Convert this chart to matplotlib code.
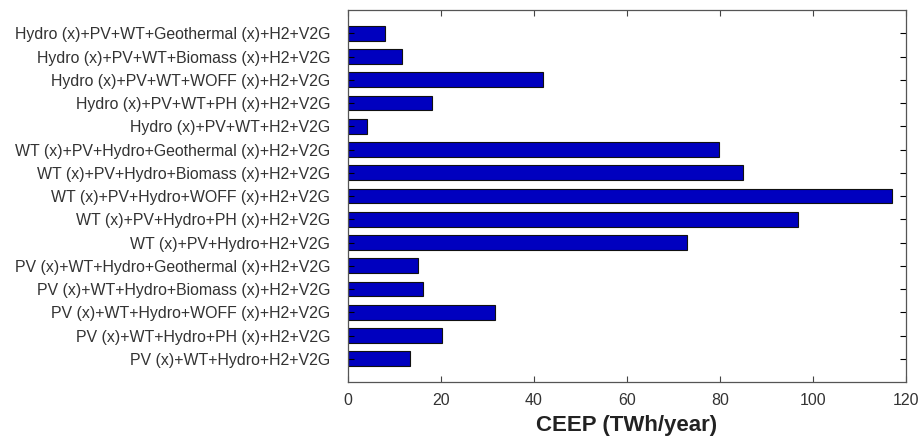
import matplotlib.pyplot as plt

plt.rcParams['font.family'] = ['Liberation Sans', 'DejaVu Sans']

# scenarios listed top to bottom
scenarios = [
    "Hydro (x)+PV+WT+Geothermal (x)+H2+V2G",
    "Hydro (x)+PV+WT+Biomass (x)+H2+V2G",
    "Hydro (x)+PV+WT+WOFF (x)+H2+V2G",
    "Hydro (x)+PV+WT+PH (x)+H2+V2G",
    "Hydro (x)+PV+WT+H2+V2G",
    "WT (x)+PV+Hydro+Geothermal (x)+H2+V2G",
    "WT (x)+PV+Hydro+Biomass (x)+H2+V2G",
    "WT (x)+PV+Hydro+WOFF (x)+H2+V2G",
    "WT (x)+PV+Hydro+PH (x)+H2+V2G",
    "WT (x)+PV+Hydro+H2+V2G",
    "PV (x)+WT+Hydro+Geothermal (x)+H2+V2G",
    "PV (x)+WT+Hydro+Biomass (x)+H2+V2G",
    "PV (x)+WT+Hydro+WOFF (x)+H2+V2G",
    "PV (x)+WT+Hydro+PH (x)+H2+V2G",
    "PV (x)+WT+Hydro+H2+V2G",
]
ceep = [8.0, 11.6, 42.0, 18.0, 4.1,
        79.8, 85.0, 117.0, 96.8, 73.0,
        15.0, 16.1, 31.6, 20.2, 13.3]
xticks = [0, 20, 40, 60, 80, 100, 120]

fig = plt.figure(figsize=(9.22, 4.43), dpi=100)
ax = fig.add_axes([0.3774, 0.1377, 0.6052, 0.8397])

ypos = list(range(len(scenarios), 0, -1))
ax.barh(ypos, ceep, height=0.63, color='#0000BF', edgecolor='#111111', linewidth=0.8)

ax.set_xlim(0, 120)
ax.set_ylim(0, len(scenarios) + 1)
ax.set_xticks(xticks)
ax.set_yticks(ypos)
ax.set_yticklabels(scenarios, fontsize=11.4, color='#333333')
ax.tick_params(axis='x', labelsize=11.5, colors='#444444', labelcolor='#333333', pad=8)
ax.tick_params(direction='in', top=True, right=True, length=4.5, width=0.8)
ax.tick_params(axis='y', pad=13)
for s in ax.spines.values():
    s.set_color('#555555')
    s.set_linewidth(0.9)

ax.set_xlabel('CEEP (TWh/year)', fontsize=16, fontweight='bold', color='#222222', labelpad=5)

fig.savefig('out.png', dpi=100)
